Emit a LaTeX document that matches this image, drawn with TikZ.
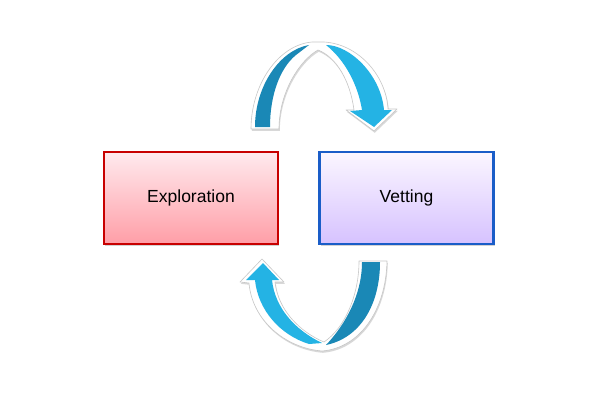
\documentclass[tikz,border=0pt]{standalone}
\usepackage{fontspec}
\setmainfont{Liberation Sans}
\usetikzlibrary{shadows}
\definecolor{redborder}{HTML}{C80000}
\definecolor{redtop}{HTML}{FFEAEE}
\definecolor{redbot}{HTML}{FF9EA7}
\definecolor{blueborder}{HTML}{1A5DC8}
\definecolor{bluetop}{HTML}{FBF6FF}
\definecolor{bluebot}{HTML}{D6C2FF}
\definecolor{arrowdark}{HTML}{1A88B6}
\definecolor{arrowlight}{HTML}{24B3E4}
\tikzset{
  boxshadow/.style={drop shadow={shadow xshift=1pt, shadow yshift=-2pt, opacity=0.35}},
  stagebox/.style={rectangle, minimum width=174pt, minimum height=92pt, line width=2.6pt,
    font=\fontsize{17.5}{21}\selectfont, boxshadow},
  arrowbase/.style={fill=white, draw=black!22, line width=0.6pt, line join=round,
    drop shadow={shadow xshift=0.8pt, shadow yshift=-1.8pt, opacity=0.3}},
  ribbonface/.style={line join=round},
}
\begin{document}
\begin{tikzpicture}[x=1pt, y=-1pt]
\useasboundingbox[fill=white] (0,0) rectangle (599,404);

\node[stagebox, draw=redborder, top color=redtop, bottom color=redbot] (explo) at (191,198) {Exploration};
\node[stagebox, draw=blueborder, top color=bluetop, bottom color=bluebot] (vet) at (406.5,198) {Vetting};

% top arrow (Exploration -> Vetting)
\path[arrowbase]
  (251,129) .. controls (251,85) and (278,45) .. (312,42) -- (324,42)
  .. controls (358,44) and (386,75) .. (388,109) -- (397,109) -- (374,131) -- (346,110) -- (354,110)
  .. controls (350,80) and (336,57) .. (318,50)
  .. controls (300,60) and (279,92) .. (279,129) -- cycle;
\path[ribbonface, fill=arrowdark]
  (255,127) .. controls (255,86) and (280,50) .. (309,45) -- (296,55)
  .. controls (280,68) and (270,95) .. (270,127) -- cycle;
\path[ribbonface, fill=arrowlight]
  (326,45) .. controls (350,45) and (381,75) .. (384,110) -- (392,110) -- (374,127) -- (350,111) -- (362,110)
  .. controls (358,85) and (345,60) .. (326,45) -- cycle;

% bottom arrow (Vetting -> Exploration)
\path[arrowbase]
  (262,259) -- (284,282) -- (275,282)
  .. controls (278,310) and (300,332) .. (324,342)
  .. controls (345,328) and (359,295) .. (359,261) -- (387,261)
  .. controls (386,310) and (360,348) .. (322,351)
  .. controls (285,348) and (252,320) .. (249,283) -- (240,282) -- cycle;
\path[ribbonface, fill=arrowdark]
  (362,262) -- (380,262) .. controls (380,305) and (360,338) .. (326,345)
  .. controls (345,325) and (362,295) .. (362,262) -- cycle;
\path[ribbonface, fill=arrowlight]
  (263,263) -- (279,280) -- (272,280) .. controls (275,308) and (295,330) .. (322,343)
  -- (309,344) .. controls (280,335) and (258,310) .. (255,280) -- (246,280) -- cycle;
\end{tikzpicture}
\end{document}
